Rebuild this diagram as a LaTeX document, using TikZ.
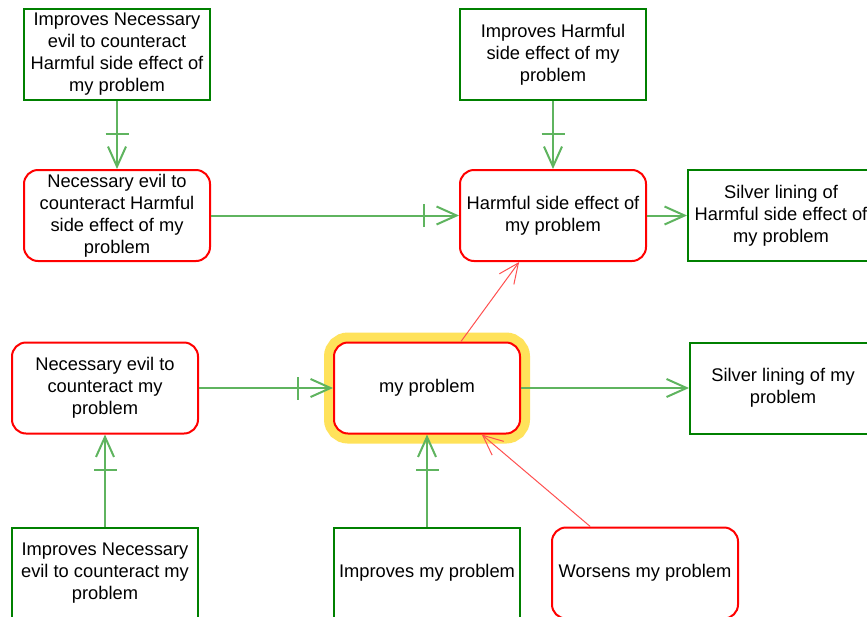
\documentclass[tikz,border=0pt]{standalone}
\usepackage{fontspec}
\setmainfont{Liberation Sans}
\usetikzlibrary{arrows.meta,decorations.markings}
\definecolor{boxred}{RGB}{255,0,0}
\definecolor{boxgreen}{RGB}{0,128,0}
\definecolor{linkgreen}{RGB}{95,180,95}
\definecolor{linkred}{RGB}{255,80,80}
\definecolor{halo}{RGB}{255,226,90}
\tikzset{
  base/.style={minimum width=186pt, minimum height=91pt, line width=2pt, align=center,
    font=\fontsize{18.3}{22}\selectfont, inner sep=0pt, fill=white},
  goodbox/.style={base, draw=boxgreen},
  badbox/.style={base, draw=boxred, rounded corners=14pt},
  focus/.style={preaction={draw=halo, line width=20pt}},
  glink/.style={draw=linkgreen, line width=2pt, -{Straight Barb[length=20pt,width=18pt]}},
  barred/.style={postaction={decorate, decoration={markings,
      mark=at position -35pt with {\draw[arrows=-, linkgreen, line width=2pt] (0,-11.5pt) -- (0,11.5pt);}}}},
  rlink/.style={draw=linkred, line width=1pt, -{Straight Barb[length=20pt,width=18pt]}},
}
\begin{document}
\begin{tikzpicture}[x=1pt,y=-1pt]
\useasboundingbox (0,0) rectangle (867,616);
\clip (0,0) rectangle (867,616);
\fill[white] (0,0) rectangle (867,616);
\node[goodbox] (A) at (117,54.5) {Improves Necessary\\evil to counteract\\Harmful side effect of\\my problem};
\node[badbox] (B) at (117,215.5) {Necessary evil to\\counteract Harmful\\side effect of my\\problem};
\node[goodbox] (C) at (553,54.5) {Improves Harmful\\side effect of my\\problem};
\node[badbox] (D) at (553,215.5) {Harmful side effect of\\my problem};
\node[goodbox] (E) at (781,215.5) {Silver lining of\\Harmful side effect of\\my problem};
\node[badbox] (F) at (105,388) {Necessary evil to\\counteract my\\problem};
\node[badbox, focus] (G) at (427,388) {my problem};
\node[goodbox] (H) at (783,388) {Silver lining of my\\problem};
\node[goodbox] (I) at (105,573) {Improves Necessary\\evil to counteract my\\problem};
\node[goodbox] (J) at (427,573) {Improves my problem};
\node[badbox] (K) at (645,573) {Worsens my problem};

\draw[glink, barred] (A) -- (B);
\draw[glink, barred] (B) -- (D);
\draw[glink, barred] (C) -- (D);
\draw[glink] (D) -- (E);
\draw[rlink] (G) -- (D);
\draw[glink, barred] (F) -- (G);
\draw[glink] (G) -- (H);
\draw[glink, barred] (I) -- (F);
\draw[glink, barred] (J) -- (G);
\draw[rlink] (K) -- (G);
\end{tikzpicture}
\end{document}
